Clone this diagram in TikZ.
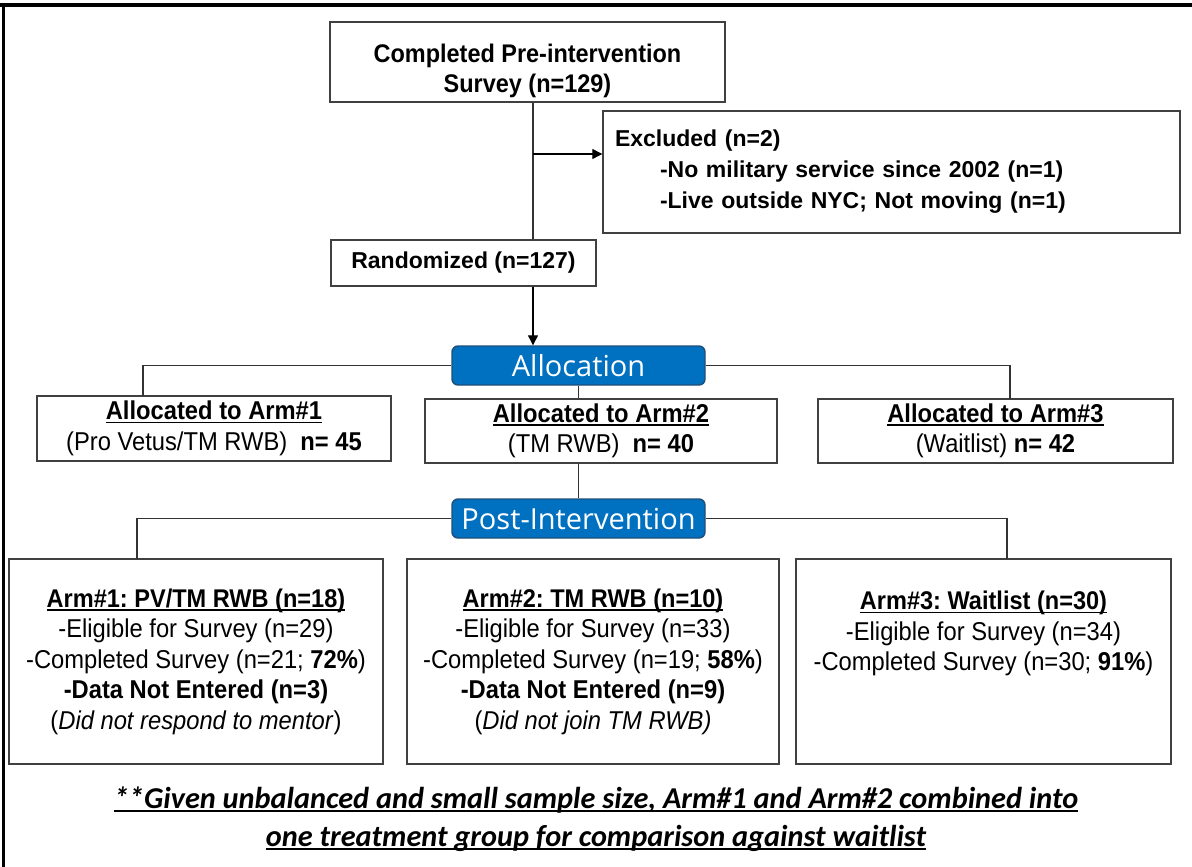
\documentclass[tikz,border=0pt]{standalone}
\usepackage{fontspec}
\setmainfont{Liberation Sans}
\newfontfamily\narrowfont[FakeStretch=0.92]{Liberation Sans}
\newfontfamily\bannerfont{Open Sans}
\newfontfamily\notefont{Carlito}
\newcommand{\uln}[1]{\setbox0\hbox{#1}\rlap{\rule[-3.5pt]{\wd0}{1.6pt}}\box0}
\newcommand{\subheadfont}{\bfseries\fontsize{25.6}{30.5}\selectfont}
\frenchspacing
\usetikzlibrary{positioning, arrows.meta, calc}
\definecolor{clrborder}{HTML}{404040}
\definecolor{clrline}{HTML}{333333}
\definecolor{clrbanner}{HTML}{0070C0}
\definecolor{clrbannerborder}{HTML}{1F4E79}
\definecolor{clrtext}{HTML}{000000}

\begin{document}
\begin{tikzpicture}[
    x=1pt, y=-1pt,
    >={Triangle[length=10pt, width=10pt]},
    box/.style={draw=clrborder, line width=1.4pt, fill=white, text=clrtext,
                align=center, inner sep=0pt},
    banner/.style={draw=clrbannerborder, fill=clrbanner, rounded corners=6pt,
                   line width=1.4pt, text=white, minimum width=253pt,
                   minimum height=39pt, inner sep=0pt,
                   font=\bannerfont\fontsize{29}{32}\selectfont},
    arrow/.style={->, line width=1.2pt, color=black},
    link/.style={line width=1.2pt, color=clrline},
    head/.style={font=\narrowfont\bfseries\fontsize{25.5}{30.5}\selectfont},
    body/.style={font=\narrowfont\fontsize{25.8}{30.5}\selectfont},
    note/.style={font=\notefont\bfseries\itshape\fontsize{30.3}{38}\selectfont, align=center},
]
\useasboundingbox (0,0) rectangle (1192,867);
% frame
\draw[line width=4pt] (0,5) -- (1192,5);
\draw[line width=3pt] (3,5) -- (3,867);

% enrolment
\node[box, head, minimum width=395pt, minimum height=80pt] (n_1) at (527.5,62) {\rule{0pt}{36pt}Completed Pre-intervention\\Survey (n=129)};
\node[box, align=left, text width=553pt, inner xsep=12pt, minimum height=122pt,
      font=\bfseries\fontsize{23}{31}\selectfont] (n_2) at (891.5,172) {Excluded (n=2)\\\hspace*{45pt}-No military service since 2002 (n=1)\\\hspace*{45pt}-Live outside NYC; Not moving (n=1)};
\node[box, minimum width=265pt, minimum height=46pt, font=\bfseries\fontsize{23}{28}\selectfont] (n_3) at (463.5,263) {Randomized (n=127)};

% allocation
\node[banner] (n_4) at (578.5,365.5) {Allocation};
\node[box, body, minimum width=354pt, minimum height=65pt] (n_5) at (214,428.5) {\uln{\bfseries Allocated to Arm\#1}\\(Pro Vetus/TM RWB)\ \ {\bfseries n= 45}};
\node[box, body, minimum width=352pt, minimum height=64pt] (n_6) at (601,431) {\uln{\bfseries Allocated to Arm\#2}\\(TM RWB)\ \ {\bfseries n= 40}};
\node[box, body, minimum width=355pt, minimum height=64pt] (n_7) at (995.5,431) {\uln{\bfseries Allocated to Arm\#3}\\(Waitlist) {\bfseries n= 42}};

% follow-up
\node[banner] (n_8) at (578.5,518.5) {Post-Intervention};
\node[box, body, minimum width=374pt, minimum height=205pt] (n_9) at (196,661.5) {\uln{\subheadfont Arm\#1: PV/TM RWB (n=18)}\\-Eligible for Survey (n=29)\\-Completed Survey (n=21; \textbf{72\%})\\\textbf{-Data Not Entered (n=3)}\\(\textit{Did not respond to mentor})};
\node[box, body, minimum width=372pt, minimum height=205pt] (n_10) at (593,661.5) {\uln{\subheadfont Arm\#2: TM RWB (n=10)}\\-Eligible for Survey (n=33)\\-Completed Survey (n=19; \textbf{58\%})\\\textbf{-Data Not Entered (n=9)}\\(\textit{Did not join TM RWB)}};
\node[box, body, minimum width=375pt, minimum height=205pt] (n_11) at (983.5,661.5) {\uln{\subheadfont Arm\#3: Waitlist (n=30)}\\-Eligible for Survey (n=34)\\-Completed Survey (n=30; \textbf{91\%})\\\mbox{}\\\mbox{}};

\node[note] (n_12) at (596,819) {\uln{**Given unbalanced and small sample size, Arm\#1 and Arm\#2 combined into}\\\uln{one treatment group for comparison against waitlist}};

% connectors
\coordinate (c_1) at (533,154);
\coordinate (c_2) at (143,396);
\coordinate (c_3) at (1010,399);
\coordinate (c_4) at (137,559);
\coordinate (c_5) at (1007,559);
\draw[link] (n_1.south -| c_1) -- (n_3.north -| c_1);
\draw[arrow] (c_1) -- (c_1 -| n_2.west);
\draw[arrow] (n_3.south -| c_1) -- (n_4.north -| c_1);
\draw[link] (n_4.west) -| (c_2);
\draw[link] (n_4.east) -| (c_3);
\draw[link] (n_4.south) -- (n_4.south |- n_6.north);
\draw[link] (n_4.south |- n_6.south) -- (n_8.north);
\draw[link] (n_8.west) -| (c_4);
\draw[link] (n_8.east) -| (c_5);
\end{tikzpicture}
\end{document}
